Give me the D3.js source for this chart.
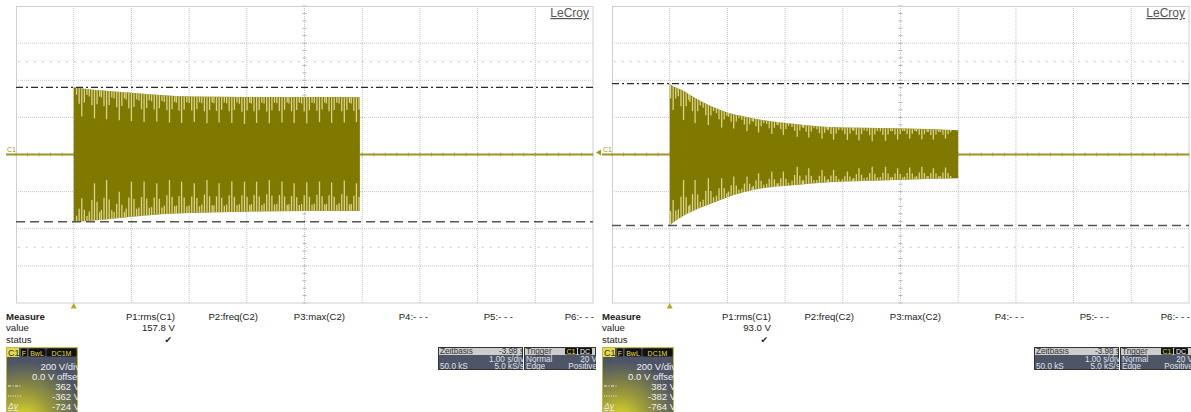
<!DOCTYPE html>
<html lang="de">
<head>
<meta charset="UTF-8">
<title>LeCroy C1</title>
<script src="https://d3js.org/d3.v7.min.js"></script>
<style>
  html, body { margin: 0; padding: 0; background: #fff; }
  svg { display: block; font-family: "Liberation Sans", Arial, sans-serif; }
</style>
</head>
<body>
<svg width="1191" height="412"></svg>
<script>
// --- data (t in s after trigger, volts) ---
const timeDomain = [-1, 9];      // 1 s/div, 10 div
const voltDomain = [-800, 800];  // 200 V/div, 8 div

// left screen: burst with slow decay
const leftEnvT   = [0, 0.25, 0.5, 1.0, 1.5, 2.0, 3.0, 4.0, 4.96];
const leftUpper  = [362, 352, 345, 332, 320, 312, 310, 310, 308];
const leftLower  = [-362, -358, -352, -336, -322, -315, -308, -305, -304];
const leftSpikeT = [0.14, 0.36, 0.57, 0.79, 1.0, 1.22, 1.44, 1.66, 1.87, 2.09, 2.31, 2.52,
                    2.74, 2.96, 3.17, 3.39, 3.61, 3.82, 4.04, 4.26, 4.47, 4.69, 4.9];
const leftTopTips = [205, 195, 190, 185, 180, 175, 178, 172, 170, 175, 168, 172,
                     170, 165, 170, 168, 172, 170, 168, 175, 170, 172, 175];
const leftBotTips = [-236, -155, -137, -200, -146, -146, -155, -137, -146, -155, -137, -155,
                     -146, -146, -146, -137, -146, -155, -150, -145, -150, -140, -155];

// right screen: burst with strong decay
const rightEnvT   = [0, 0.04, 0.21, 0.44, 0.73, 1.02, 1.31, 1.6, 2.18, 2.75, 3.33, 3.91, 5.0];
const rightUpper  = [382, 372, 348, 305, 258, 224, 204, 186, 164, 148, 144, 141, 131];
const rightLower  = [-382, -371, -335, -299, -263, -227, -200, -182, -164, -150, -143, -137, -128];
const rightSpikeT = [0.06, 0.24, 0.44, 0.67, 0.9, 1.11, 1.34, 1.54, 1.77, 1.97, 2.21, 2.41,
                     2.64, 2.84, 3.08, 3.28, 3.51, 3.74, 3.95, 4.16, 4.37, 4.57, 4.78];
const rightTopTips = [240, 186, 168, 159, 145, 140, 125, 118, 110, 105, 96, 92,
                      85, 80, 78, 75, 72, 74, 80, 85, 82, 80, 85];
const rightBotTips = [-245, -137, -137, -128, -128, -119, -119, -101, -92, -92, -66, -74,
                      -83, -83, -92, -74, -66, -66, -74, -70, -66, -74, -70];

// measurement table
const paramLabels = ["P1:rms(C1)", "P2:freq(C2)", "P3:max(C2)", "P4:- - -", "P5:- - -", "P6:- - -"];
const rowLabels = ["Measure", "value", "status"];
const leftRms = "157.8 V";
const rightRms = "93.0 V";

// channel box: cursor levels
const leftCursors = [362, -362, -724];
const rightCursors = [382, -382, -764];
const channelLines = ["200 V/div", "0.0 V offset"];
const channelBadges = ["F", "BwL", "DC1M"];

// timebase / trigger
const timebaseRows = [["Zeitbasis", "-3.98 s"], ["", "1.00 s/div"], ["50.0 kS", "5.0 kS/s"]];
const triggerRows = [["Trigger", ""], ["Normal", "20 V"], ["Edge", "Positive"]];

const panels = [
  { ox: 0, envT: leftEnvT, upper: leftUpper, lower: leftLower, spikeT: leftSpikeT,
    topTips: leftTopTips, botTips: leftBotTips, cursors: leftCursors, rms: leftRms, lead: false },
  { ox: 596, envT: rightEnvT, upper: rightUpper, lower: rightLower, spikeT: rightSpikeT,
    topTips: rightTopTips, botTips: rightBotTips, cursors: rightCursors, rms: rightRms, lead: true }
];

const svg = d3.select("svg");
const defs = svg.append("defs");

const olive = "#807900";
const spikeCol = "#d8d28a";
const baseCol = "#9d9620";

// gradient for channel box
const rg = defs.append("radialGradient").attr("id", "glow")
  .attr("cx", "25%").attr("cy", "105%").attr("r", "85%");
rg.append("stop").attr("offset", "0%").attr("stop-color", "#e4df2a");
rg.append("stop").attr("offset", "45%").attr("stop-color", "#9c9a3a");
rg.append("stop").attr("offset", "100%").attr("stop-color", "#4c5466");

panels.forEach((p, i) => drawPanel(p, i));

function drawPanel(p, i) {
  const g = svg.append("g").attr("transform", `translate(${p.ox},0)`);
  const x = d3.scaleLinear().domain(timeDomain).range([16, 593]);
  const y = d3.scaleLinear().domain(voltDomain).range([303, 6]);

  defs.append("clipPath").attr("id", "plot" + i)
    .append("rect").attr("x", 16).attr("y", 6).attr("width", 577).attr("height", 297);

  // grid
  const grid = g.append("g");
  d3.range(timeDomain[0] + 1, timeDomain[1]).forEach(t => {
    grid.append("line").attr("x1", x(t)).attr("x2", x(t)).attr("y1", 6).attr("y2", 303)
      .attr("stroke", "#c4c4c4").attr("stroke-dasharray", "1,1");
  });
  d3.range(-600, 800, 200).forEach(v => {
    grid.append("line").attr("x1", 16).attr("x2", 593).attr("y1", y(v)).attr("y2", y(v))
      .attr("stroke", "#c4c4c4").attr("stroke-dasharray", "1,1");
  });
  [500, -500].forEach(v => {
    grid.append("line").attr("x1", 18).attr("x2", 593).attr("y1", y(v)).attr("y2", y(v))
      .attr("stroke", "#b8b8b8").attr("stroke-dasharray", "1.5,6.5");
  });
  // minor ticks on centre axes
  d3.range(-800, 801, 40).forEach(v => {
    grid.append("line").attr("x1", x(4) - 2).attr("x2", x(4) + 2).attr("y1", y(v)).attr("y2", y(v))
      .attr("stroke", "#b4b4b4");
  });
  d3.range(-1, 9.01, 0.2).forEach(t => {
    grid.append("line").attr("x1", x(t)).attr("x2", x(t)).attr("y1", y(0) - 2).attr("y2", y(0) + 2)
      .attr("stroke", "#b4b4b4");
  });
  grid.append("rect").attr("x", 16.5).attr("y", 6.5).attr("width", 576.5).attr("height", 296.5)
    .attr("fill", "none").attr("stroke", "#cfcfcf");

  // trace
  const tr = g.append("g").attr("clip-path", `url(#plot${i})`);
  const tEnd = p.envT[p.envT.length - 1];
  const env = p.envT.map((t, k) => ({ t, hi: p.upper[k], lo: p.lower[k] }));

  tr.append("line").attr("x1", x(timeDomain[0])).attr("x2", x(0)).attr("y1", y(0)).attr("y2", y(0))
    .attr("stroke", baseCol).attr("stroke-width", 2);
  tr.append("line").attr("x1", x(tEnd)).attr("x2", x(timeDomain[1])).attr("y1", y(0)).attr("y2", y(0))
    .attr("stroke", baseCol).attr("stroke-width", 2);

  tr.append("path").datum(env)
    .attr("fill", olive)
    .attr("d", d3.area().curve(d3.curveMonotoneX)
      .x(d => x(d.t)).y0(d => y(d.lo)).y1(d => y(d.hi)));

  const hiAt = d3.scaleLinear().domain(p.envT).range(p.upper);
  const loAt = d3.scaleLinear().domain(p.envT).range(p.lower);
  const offs = [-0.09, -0.045, 0.045, 0.09];
  const fracs = [0.25, 0.55, 0.5, 0.22];

  const spikes = [];
  p.spikeT.forEach((t, k) => {
    spikes.push({ t, a: hiAt(t), b: p.topTips[k] });
    spikes.push({ t, a: loAt(t), b: p.botTips[k] });
    offs.forEach((o, j) => {
      const ts = t + o;
      if (ts <= 0.01 || ts >= tEnd - 0.01) return;
      const h = hiAt(ts), l = loAt(ts);
      spikes.push({ t: ts, a: h, b: h - (h - p.topTips[k]) * fracs[j] });
      spikes.push({ t: ts, a: l, b: l - (l - p.botTips[k]) * fracs[j] });
    });
  });
  tr.selectAll("line.spike").data(spikes).enter().append("line")
    .attr("class", "spike")
    .attr("x1", d => x(d.t)).attr("x2", d => x(d.t))
    .attr("y1", d => y(d.a)).attr("y2", d => y(d.b))
    .attr("stroke", spikeCol).attr("stroke-width", 1.3);

  // cursors
  g.append("line").attr("x1", 16).attr("x2", 593).attr("y1", y(p.cursors[0])).attr("y2", y(p.cursors[0]))
    .attr("stroke", "#2a2a2a").attr("stroke-width", 1.2).attr("stroke-dasharray", "7,3,2,3");
  g.append("line").attr("x1", 16).attr("x2", 593).attr("y1", y(p.cursors[1])).attr("y2", y(p.cursors[1]))
    .attr("stroke", "#555").attr("stroke-width", 1.5).attr("stroke-dasharray", "9,5");

  // LeCroy logo
  g.append("text").attr("x", 589).attr("y", 17).attr("text-anchor", "end")
    .attr("font-size", 12).attr("fill", "#555").attr("text-decoration", "underline")
    .text("LeCroy");

  // channel marker
  g.append("line").attr("x1", 6).attr("x2", 16).attr("y1", y(0)).attr("y2", y(0))
    .attr("stroke", baseCol).attr("stroke-width", 2);
  if (p.lead) {
    g.append("path").attr("d", `M0,${y(0) - 2}L5,${y(0) - 5}L5,${y(0) + 1}Z`).attr("fill", baseCol);
  }
  g.append("text").attr("x", 7).attr("y", y(0) - 3).attr("font-size", 7).attr("fill", baseCol).text("C1");

  // trigger marker
  g.append("path").attr("d", `M${x(0)},303L${x(0) - 3},308.5L${x(0) + 3},308.5Z`).attr("fill", "#b8a820");

  // measurement table
  const tb = g.append("g").attr("font-size", 9.6).attr("fill", "#222");
  rowLabels.forEach((r, k) => {
    tb.append("text").attr("x", 6).attr("y", 319.5 + k * 11.5)
      .attr("font-weight", k === 0 ? "bold" : "normal").text(r);
  });
  const colX = [175, 258, 345, 428, 513, 594];
  paramLabels.forEach((lab, k) => {
    tb.append("text").attr("x", colX[k]).attr("y", 319.5).attr("text-anchor", "end").text(lab);
  });
  tb.append("text").attr("x", colX[0]).attr("y", 331).attr("text-anchor", "end").text(p.rms);
  tb.append("text").attr("x", colX[0] - 3).attr("y", 343).attr("text-anchor", "end")
    .attr("font-family", "DejaVu Sans").attr("font-size", 9).text("\u2714");

  // channel box
  defs.append("clipPath").attr("id", "cbox" + i)
    .append("rect").attr("x", 6).attr("y", 347).attr("width", 72).attr("height", 70);
  const cb = g.append("g").attr("clip-path", `url(#cbox${i})`);
  cb.append("rect").attr("x", 6).attr("y", 347).attr("width", 72).attr("height", 70).attr("fill", "url(#glow)");
  cb.append("rect").attr("x", 6.5).attr("y", 347.5).attr("width", 71).attr("height", 70)
    .attr("fill", "none").attr("stroke", "#c2ba3a");
  cb.append("rect").attr("x", 7).attr("y", 348).attr("width", 12).attr("height", 9).attr("fill", "#e6dc4a");
  cb.append("text").attr("x", 8).attr("y", 356).attr("font-size", 9).attr("fill", "#333").text("C1");
  const bx = [21, 28.5, 46.5], bw = [6, 17, 30];
  channelBadges.forEach((b, k) => {
    cb.append("rect").attr("x", bx[k]).attr("y", 348.5).attr("width", bw[k]).attr("height", 8)
      .attr("rx", 1.5).attr("fill", "#111");
    cb.append("text").attr("x", bx[k] + bw[k] / 2).attr("y", 355.5).attr("text-anchor", "middle")
      .attr("font-size", 7).attr("fill", "#e6dc4a").text(b);
  });
  const lines = channelLines.concat(p.cursors.map(v => `${v} V`));
  lines.forEach((s, k) => {
    cb.append("text").attr("x", 80).attr("y", 369.5 + k * 10).attr("text-anchor", "end")
      .attr("font-size", 9.5).attr("fill", "#f2f2f2").text(s);
  });
  cb.append("line").attr("x1", 8).attr("x2", 22).attr("y1", 386).attr("y2", 386)
    .attr("stroke", "#eee").attr("stroke-dasharray", "3,1.5,1,1.5");
  cb.append("line").attr("x1", 8).attr("x2", 22).attr("y1", 396).attr("y2", 396)
    .attr("stroke", "#eee").attr("stroke-dasharray", "1,1.3");
  cb.append("text").attr("x", 8).attr("y", 409).attr("font-size", 8.5).attr("font-style", "italic")
    .attr("text-decoration", "underline").attr("fill", "#eee").text("\u0394y");

  // timebase + trigger boxes
  drawInfoBox(g, 438, 85, timebaseRows, "tb" + i, false);
  drawInfoBox(g, 524, 72, triggerRows, "tr" + i, true);
}

function drawInfoBox(g, x0, w, rows, id, badges) {
  defs.append("clipPath").attr("id", id)
    .append("rect").attr("x", x0).attr("y", 347).attr("width", w).attr("height", 23);
  const b = g.append("g").attr("clip-path", `url(#${id})`).attr("font-size", 8.2);
  b.append("rect").attr("x", x0).attr("y", 347).attr("width", w).attr("height", 23).attr("fill", "#4d5567");
  b.append("rect").attr("x", x0).attr("y", 347).attr("width", w).attr("height", 8).attr("fill", "#cdcdcd");
  b.append("rect").attr("x", x0 + 0.5).attr("y", 347.5).attr("width", w - 1).attr("height", 22)
    .attr("fill", "none").attr("stroke", "#333");
  rows.forEach((r, k) => {
    const yy = 354.2 + k * 7.4;
    const col = k === 0 ? "#333" : "#dfe2ea";
    b.append("text").attr("x", x0 + 2).attr("y", yy).attr("fill", col).text(r[0]);
    b.append("text").attr("x", x0 + w + 1).attr("y", yy).attr("text-anchor", "end").attr("fill", col).text(r[1]);
  });
  if (badges) {
    [["C1", x0 + 41, 12, "#e6dc4a"], ["DC", x0 + 54, 14, "#fff"]].forEach(d => {
      b.append("rect").attr("x", d[1]).attr("y", 348).attr("width", d[2]).attr("height", 6.5)
        .attr("rx", 1).attr("fill", "#111");
      b.append("text").attr("x", d[1] + d[2] / 2).attr("y", 353.8).attr("text-anchor", "middle")
        .attr("font-size", 7).attr("fill", d[3]).text(d[0]);
    });
  }
}
</script>
</body>
</html>
